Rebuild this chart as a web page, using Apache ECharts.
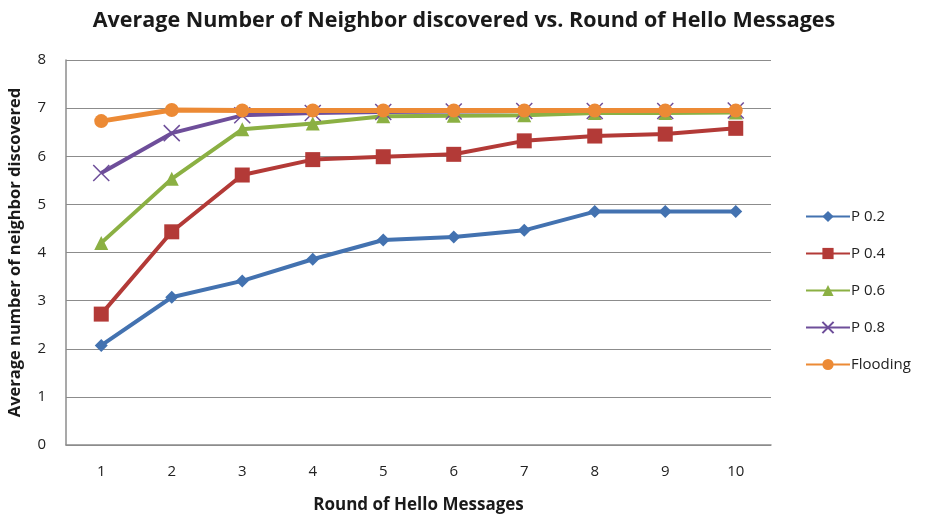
<!DOCTYPE html>
<html>
<head>
<meta charset="utf-8">
<script src="https://cdn.jsdelivr.net/npm/echarts@6/dist/echarts.min.js"></script>
<style>html,body{margin:0;padding:0;background:#fff}#c{width:928px;height:516px}</style>
</head>
<body>
<div id="c"></div>
<script>
const categories = ['1','2','3','4','5','6','7','8','9','10'];
const p02 = [2.07, 3.07, 3.41, 3.86, 4.26, 4.32, 4.46, 4.85, 4.85, 4.85];
const p04 = [2.72, 4.43, 5.61, 5.93, 5.99, 6.04, 6.32, 6.42, 6.46, 6.58];
const p06 = [4.2, 5.53, 6.56, 6.68, 6.83, 6.84, 6.85, 6.9, 6.9, 6.91];
const p08 = [5.65, 6.48, 6.85, 6.9, 6.92, 6.93, 6.94, 6.94, 6.94, 6.95];
const flooding = [6.73, 6.96, 6.95, 6.95, 6.95, 6.95, 6.95, 6.95, 6.95, 6.95];
const seriesNames = ['P 0.2', 'P 0.4', 'P 0.6', 'P 0.8', 'Flooding'];
const yTicks = [0,1,2,3,4,5,6,7,8];

const colors = ['#4372b0', '#b33a37', '#8bb043', '#6e4e9a', '#ec8a35'];
const symbols = ['diamond', 'rect', 'triangle', 'path://M1,1 L0,0 L1,1 L2,0 L1,1 L2,2 L1,1 L0,2 Z', 'circle'];
const sizes = [13, 15, 14, 16, 14];
const datas = [p02, p04, p06, p08, flooding];
const font = 'Open Sans';

const chart = echarts.init(document.getElementById('c'));
chart.setOption({
  animation: false,
  title: {
    text: 'Average Number of Neighbor discovered vs. Round of Hello Messages',
    left: 'center', top: 5,
    textStyle: {fontFamily: font, fontWeight: 'bold', fontSize: 21.5, color: '#1a1a1a'}
  },
  legend: {
    orient: 'vertical', left: 800, top: 204, itemGap: 22,
    itemWidth: 44, itemHeight: 14,
    textStyle: {fontFamily: font, fontSize: 15, color: '#222', padding: [0,0,0,-4]},
    data: seriesNames
  },
  grid: {left: 66, right: 157, top: 60, bottom: 71, outerBoundsMode: 'none', containLabel: false},
  xAxis: {
    type: 'category', data: categories, boundaryGap: true,
    name: 'Round of Hello Messages', nameLocation: 'middle', nameGap: 52,
    nameTextStyle: {fontFamily: font, fontWeight: 'bold', fontSize: 17, color: '#1a1a1a'},
    axisLine: {lineStyle: {color: '#8c8c8c', width: 1.5}},
    axisTick: {show: false},
    axisLabel: {fontFamily: font, fontSize: 15, color: '#222', margin: 19}
  },
  yAxis: {
    type: 'value', min: yTicks[0], max: yTicks[yTicks.length-1], interval: 1,
    name: 'Average number of neighbor discovered', nameLocation: 'middle', nameGap: 42,
    nameTextStyle: {fontFamily: font, fontWeight: 'bold', fontSize: 16.5, color: '#1a1a1a'},
    axisLine: {show: true, lineStyle: {color: '#8c8c8c', width: 1.5}},
    axisTick: {show: false},
    axisLabel: {fontFamily: font, fontSize: 15, color: '#222', margin: 20},
    splitLine: {lineStyle: {color: '#8c8c8c', width: 1.2}}
  },
  series: seriesNames.map((n, i) => ({
    name: n, type: 'line', data: datas[i],
    symbol: symbols[i], symbolSize: sizes[i],
    z: 2 + i,
    lineStyle: {color: colors[i], width: i === 4 ? 5 : 4},
    itemStyle: i === 3 ? {color: 'transparent', borderColor: colors[i], borderWidth: 1.5} : {color: colors[i]}
  }))
});
</script>
</body>
</html>
